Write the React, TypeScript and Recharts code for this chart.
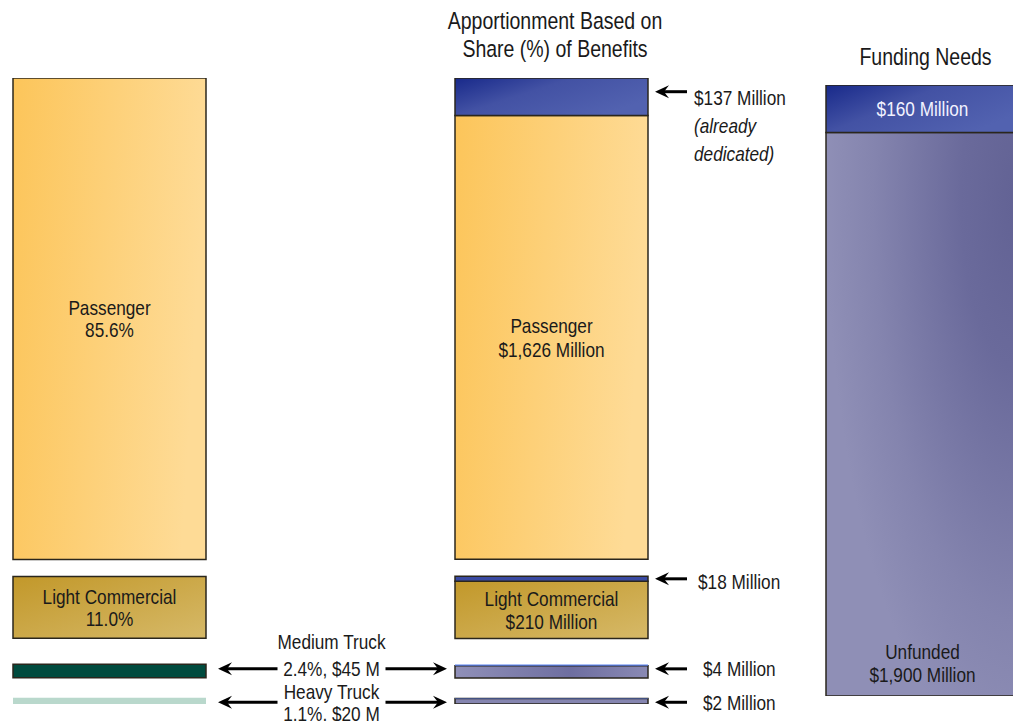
import React from 'react';
import { BarChart, Bar, XAxis, YAxis, LabelList } from 'recharts';

// ---------------------------------------------------------------------------
// Data
// ---------------------------------------------------------------------------

const VEHICLE_CLASSES = ['Passenger', 'Light Commercial', 'Medium Truck', 'Heavy Truck'];
/** Share (%) of benefits by vehicle class */
const BENEFIT_SHARE_PCT = [85.6, 11.0, 2.4, 1.1];
/** New apportionment, $ Million */
const APPORTIONED_M = [1626, 210, 45, 20];
/** Revenue already dedicated, $ Million */
const DEDICATED_M = [137, 18, 4, 2];
/** Funding needs, $ Million: already dedicated, unfunded */
const NEEDS_LABELS = ['Dedicated', 'Unfunded'];
const NEEDS_M = [160, 1900];

const APPORTION_TITLE = ['Apportionment Based on', 'Share (%) of Benefits'];
const NEEDS_TITLE = 'Funding Needs';

// ---------------------------------------------------------------------------
// Layout
// ---------------------------------------------------------------------------

const W = 1013;
const H = 721;
const COL_W = 193;
const COL_X = { share: 13, apportion: 455, needs: 826 };
const STACK_TOP = 78;
const STACK_BOTTOM = 704;
const GAPS_PX = [17, 26, 20]; // passenger/LC, LC/medium, medium/heavy
const NEEDS_TOP = 85;
const NEEDS_BOTTOM = 696;
const FONT = '"Liberation Sans", Arial, sans-serif';
const FS = 21;
const NARROW = 0.82; // squeeze Liberation Sans into an Arial Narrow look
const TITLE_FS = 23.5;
const TITLE_NARROW = 0.83;
const INK = '#1a1a1a';
const EDGE = '#2a261c';

const sum = (a: number[]) => a.reduce((s, v) => s + v, 0);
const money = (v: number) => `$${v.toLocaleString('en-US')} Million`;

function gapValues(total: number) {
  const valuePx = STACK_BOTTOM - STACK_TOP - sum(GAPS_PX);
  return GAPS_PX.map((g) => (g * total) / valuePx);
}

const shareTotal = sum(BENEFIT_SHARE_PCT);
const shareGaps = gapValues(shareTotal);
const shareRow: Record<string, number | string> = { name: 'share' };
BENEFIT_SHARE_PCT.forEach((v, i) => (shareRow[`c${i}`] = v));
shareGaps.forEach((g, i) => (shareRow[`g${i}`] = g));
const shareMax = shareTotal + sum(shareGaps);

const apportionTotal = sum(APPORTIONED_M) + sum(DEDICATED_M);
const apportionGaps = gapValues(apportionTotal);
const apportionRow: Record<string, number | string> = { name: 'apportion' };
APPORTIONED_M.forEach((v, i) => (apportionRow[`a${i}`] = v));
DEDICATED_M.forEach((v, i) => (apportionRow[`d${i}`] = v));
apportionGaps.forEach((g, i) => (apportionRow[`g${i}`] = g));
const apportionMax = apportionTotal + sum(apportionGaps);

const needsRow = { name: 'needs', dedicated: NEEDS_M[0], unfunded: NEEDS_M[1] };

// ---------------------------------------------------------------------------
// Label helpers
// ---------------------------------------------------------------------------

function box(p: any) {
  const v = p.viewBox && p.viewBox.x != null ? p.viewBox : p;
  const x = Number(v.x);
  const y = Number(v.y);
  const w = Number(v.width);
  const h = Number(v.height);
  return { x: Math.min(x, x + w), y: Math.min(y, y + h), w: Math.abs(w), h: Math.abs(h) };
}

/** Narrow text: y is the vertical centre of the capitals. */
function NText({
  x,
  y,
  anchor = 'middle',
  italic,
  fill = INK,
  size = FS,
  sx = NARROW,
  children,
}: {
  x: number;
  y: number;
  anchor?: 'start' | 'middle' | 'end';
  italic?: boolean;
  fill?: string;
  size?: number;
  sx?: number;
  children: React.ReactNode;
}) {
  return (
    <text
      transform={`translate(${x},${y + size * 0.358}) scale(${sx},1)`}
      x={0}
      y={0}
      textAnchor={anchor}
      fontFamily={FONT}
      fontSize={size}
      fontStyle={italic ? 'italic' : 'normal'}
      fill={fill}
    >
      {children}
    </text>
  );
}

function Arrow({ from, to, y }: { from: number; to: number; y: number }) {
  const d = to > from ? 1 : -1;
  const back = to - d * 14;
  return (
    <g>
      <line x1={from} y1={y} x2={to - d * 9} y2={y} stroke="#000" strokeWidth={3} />
      <path
        d={`M${to},${y} L${back},${y - 6.5} L${to - d * 9},${y} L${back},${y + 6.5} Z`}
        fill="#000"
      />
    </g>
  );
}

// centred text inside a bar segment
const inner =
  (lines: string[], opts: { color?: string; fromBottom?: number; lead?: number } = {}) =>
  (p: any) => {
    const { x, y, w, h } = box(p);
    const cx = x + w / 2;
    const lead = opts.lead ?? 23;
    const mid = opts.fromBottom != null ? y + h - opts.fromBottom : y + h / 2;
    return (
      <g>
        {lines.map((l, i) => (
          <NText key={i} x={cx} y={mid + (i - (lines.length - 1) / 2) * lead} fill={opts.color}>
            {l}
          </NText>
        ))}
      </g>
    );
  };

// arrow + note on the right of a bar segment
const sideNote =
  (lines: { t: string; italic?: boolean }[], textGap = 50, shift = 0, textShift = 0) =>
  (p: any) => {
    const { x, y, w, h } = box(p);
    const right = x + w;
    const cy = y + h / 2 + shift;
    return (
      <g>
        <Arrow from={right + 39} to={right + 7} y={cy} />
        {lines.map((l, i) => (
          <NText key={i} x={right + textGap} y={cy + textShift + i * 28} anchor="start" italic={l.italic}>
            {l.t}
          </NText>
        ))}
      </g>
    );
  };

// two-line annotation between the share column and the apportionment column
const between =
  (lines: string[], line1Offset: number, line2Offset: number, shift = 0) =>
  (p: any) => {
    const { x, y, h } = box(p);
    const cy = y + h / 2 + shift;
    const leftEdge = COL_X.share + COL_W;
    const cx = (leftEdge + x) / 2 + 1;
    return (
      <g>
        <Arrow from={cx - 54} to={leftEdge + 12} y={cy} />
        <Arrow from={cx + 54} to={x - 8} y={cy} />
        <NText x={cx} y={cy + line1Offset}>
          {lines[0]}
        </NText>
        <NText x={cx} y={cy + line2Offset}>
          {lines[1]}
        </NText>
      </g>
    );
  };

function Gradients() {
  return (
    <svg width={0} height={0} style={{ position: 'absolute' }}>
      <defs>
        <linearGradient id="gPass" x1="0" y1="0" x2="1" y2="0.15">
          <stop offset="0" stopColor="#fcc55a" />
          <stop offset="1" stopColor="#fedb96" />
        </linearGradient>
        <linearGradient id="gLc" x1="0" y1="0" x2="1" y2="1">
          <stop offset="0" stopColor="#c2982a" />
          <stop offset="1" stopColor="#d6b968" />
        </linearGradient>
        <linearGradient id="gBlue" x1="0" y1="0" x2="1" y2="0.6">
          <stop offset="0" stopColor="#18298a" />
          <stop offset="0.45" stopColor="#4352a4" />
          <stop offset="1" stopColor="#5262b0" />
        </linearGradient>
        <radialGradient id="gNeeds" cx="1" cy="0.12" r="1">
          <stop offset="0" stopColor="#626294" />
          <stop offset="0.3" stopColor="#6a6a9b" />
          <stop offset="0.75" stopColor="#8484ae" />
          <stop offset="1" stopColor="#8f8fb6" />
        </radialGradient>
        <linearGradient id="gTruck" x1="0" y1="0" x2="1" y2="0">
          <stop offset="0" stopColor="#9090b8" />
          <stop offset="0.6" stopColor="#6e6ea0" />
          <stop offset="1" stopColor="#8a8ab4" />
        </linearGradient>
      </defs>
    </svg>
  );
}

const layer: React.CSSProperties = { position: 'absolute', left: 0, top: 0 };
const noAnim = { isAnimationActive: false, stackId: 's' } as const;

// ---------------------------------------------------------------------------
// Component
// ---------------------------------------------------------------------------

export default function App() {
  const medNote = [
    VEHICLE_CLASSES[2],
    `${BENEFIT_SHARE_PCT[2].toFixed(1)}%, $${APPORTIONED_M[2]} M`,
  ];
  const heavyNote = [
    VEHICLE_CLASSES[3],
    `${BENEFIT_SHARE_PCT[3].toFixed(1)}%, $${APPORTIONED_M[3]} M`,
  ];

  return (
    <div
      style={{
        position: 'absolute',
        left: 0,
        top: 0,
        width: W,
        height: H,
        overflow: 'hidden',
        background: '#fff',
      }}
    >
      <Gradients />

      {/* Column titles */}
      <svg width={W} height={90} style={layer}>
        {APPORTION_TITLE.map((t, i) => (
          <NText key={t} x={555} y={21 + i * 28} size={TITLE_FS} sx={TITLE_NARROW}>
            {t}
          </NText>
        ))}
        <NText x={925.5} y={57} size={TITLE_FS} sx={TITLE_NARROW}>
          {NEEDS_TITLE}
        </NText>
      </svg>

      {/* Share (%) of benefits */}
      <div style={layer}>
        <BarChart
          width={W}
          height={H}
          data={[shareRow]}
          margin={{ top: STACK_TOP, bottom: H - STACK_BOTTOM, left: COL_X.share, right: W - COL_X.share - COL_W }}
          barCategoryGap={0}
        >
          <XAxis dataKey="name" hide />
          <YAxis hide domain={[0, shareMax]} allowDataOverflow />
          <Bar dataKey="c3" {...noAnim} fill="#b9d8cc" />
          <Bar dataKey="g2" {...noAnim} fill="none" />
          <Bar dataKey="c2" {...noAnim} fill="#004b3e" stroke={EDGE} strokeWidth={1.5} />
          <Bar dataKey="g1" {...noAnim} fill="none" />
          <Bar dataKey="c1" {...noAnim} fill="url(#gLc)" stroke={EDGE} strokeWidth={1.5}>
            <LabelList
              dataKey="c1"
              content={inner([VEHICLE_CLASSES[1], `${BENEFIT_SHARE_PCT[1].toFixed(1)}%`], { lead: 22.5 })}
            />
          </Bar>
          <Bar dataKey="g0" {...noAnim} fill="none" />
          <Bar dataKey="c0" {...noAnim} fill="url(#gPass)" stroke={EDGE} strokeWidth={1.5}>
            <LabelList
              dataKey="c0"
              content={inner([VEHICLE_CLASSES[0], `${BENEFIT_SHARE_PCT[0].toFixed(1)}%`], { lead: 22.5 })}
            />
          </Bar>
        </BarChart>
      </div>

      {/* Apportionment ($ Million) */}
      <div style={layer}>
        <BarChart
          width={W}
          height={H}
          data={[apportionRow]}
          margin={{ top: STACK_TOP, bottom: H - STACK_BOTTOM, left: COL_X.apportion, right: W - COL_X.apportion - COL_W }}
          barCategoryGap={0}
        >
          <XAxis dataKey="name" hide />
          <YAxis hide domain={[0, apportionMax]} allowDataOverflow />
          <Bar dataKey="a3" {...noAnim} fill="#8585b0" stroke={EDGE} strokeWidth={1.5}>
            <LabelList dataKey="a3" content={between(heavyNote, -11, 11, 1)} />
            <LabelList dataKey="a3" content={sideNote([{ t: money(DEDICATED_M[3]) }], 55, 1)} />
          </Bar>
          <Bar dataKey="d3" {...noAnim} fill="#5b7fe8" />
          <Bar dataKey="g2" {...noAnim} fill="none" />
          <Bar dataKey="a2" {...noAnim} fill="url(#gTruck)" stroke={EDGE} strokeWidth={1.5}>
            <LabelList dataKey="a2" content={between(medNote, -27, 0, -3)} />
            <LabelList dataKey="a2" content={sideNote([{ t: money(DEDICATED_M[2]) }], 55, -3)} />
          </Bar>
          <Bar dataKey="d2" {...noAnim} fill="#5b82ee" />
          <Bar dataKey="g1" {...noAnim} fill="none" />
          <Bar dataKey="a1" {...noAnim} fill="url(#gLc)" stroke={EDGE} strokeWidth={1.5}>
            <LabelList
              dataKey="a1"
              content={inner([VEHICLE_CLASSES[1], money(APPORTIONED_M[1])], { lead: 23 })}
            />
          </Bar>
          <Bar dataKey="d1" {...noAnim} fill="#3a4aa2" stroke={EDGE} strokeWidth={1.5}>
            <LabelList dataKey="d1" content={sideNote([{ t: money(DEDICATED_M[1]) }], 50, 0, 3)} />
          </Bar>
          <Bar dataKey="g0" {...noAnim} fill="none" />
          <Bar dataKey="a0" {...noAnim} fill="url(#gPass)" stroke={EDGE} strokeWidth={1.5}>
            <LabelList
              dataKey="a0"
              content={inner([VEHICLE_CLASSES[0], money(APPORTIONED_M[0])], { lead: 24 })}
            />
          </Bar>
          <Bar dataKey="d0" {...noAnim} fill="url(#gBlue)" stroke={EDGE} strokeWidth={1.5}>
            <LabelList
              dataKey="d0"
              content={sideNote(
                [{ t: money(DEDICATED_M[0]) }, { t: '(already', italic: true }, { t: 'dedicated)', italic: true }],
                46,
                -5,
                5.5,
              )}
            />
          </Bar>
        </BarChart>
      </div>

      {/* Funding needs ($ Million) */}
      <div style={layer}>
        <BarChart
          width={W + 10}
          height={H}
          data={[needsRow]}
          margin={{ top: NEEDS_TOP, bottom: H - NEEDS_BOTTOM, left: COL_X.needs, right: W + 10 - COL_X.needs - COL_W }}
          barCategoryGap={0}
        >
          <XAxis dataKey="name" hide />
          <YAxis hide domain={[0, sum(NEEDS_M)]} allowDataOverflow />
          <Bar dataKey="unfunded" {...noAnim} fill="url(#gNeeds)" stroke={EDGE} strokeWidth={1.5}>
            <LabelList
              dataKey="unfunded"
              content={inner([NEEDS_LABELS[1], money(NEEDS_M[1])], { fromBottom: 33 })}
            />
          </Bar>
          <Bar dataKey="dedicated" {...noAnim} fill="url(#gBlue)" stroke={EDGE} strokeWidth={1.5}>
            <LabelList dataKey="dedicated" content={inner([money(NEEDS_M[0])], { color: '#f2f2ff' })} />
          </Bar>
        </BarChart>
      </div>
    </div>
  );
}
